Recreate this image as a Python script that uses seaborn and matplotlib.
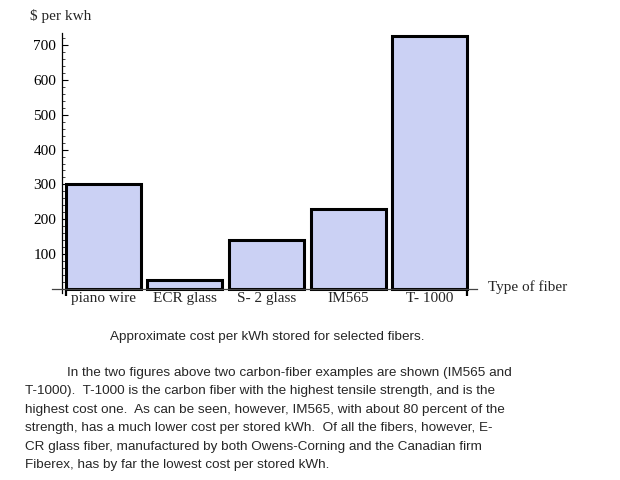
import matplotlib
matplotlib.use("Agg")
import matplotlib.pyplot as plt
from matplotlib.ticker import MultipleLocator, FixedLocator, NullFormatter
import seaborn as sns

# values ($ per kWh stored)
fibers = ["piano wire", "ECR glass", "S- 2 glass", "IM565", "T- 1000"]
cost_per_kwh = [302, 26, 141, 230, 725]
ytick_values = [100, 200, 300, 400, 500, 600, 700]

caption = "Approximate cost per kWh stored for selected fibers."
paragraph = [
    "In the two figures above two carbon-fiber examples are shown (IM565 and",
    "T-1000).  T-1000 is the carbon fiber with the highest tensile strength, and is the",
    "highest cost one.  As can be seen, however, IM565, with about 80 percent of the",
    "strength, has a much lower cost per stored kWh.  Of all the fibers, however, E-",
    "CR glass fiber, manufactured by both Owens-Corning and the Canadian firm",
    "Fiberex, has by far the lowest cost per stored kWh.",
]

sns.set_style("ticks")
plt.rcParams["font.family"] = ["Liberation Serif", "DejaVu Serif"]

W, H = 620, 480
fig = plt.figure(figsize=(6.2, 4.8), dpi=100)
ax = fig.add_axes([52 / W, 187 / H, (477 - 52) / W, (447 - 187) / H])

bar_color = "#CBD1F4"
sns.barplot(x=fibers, y=cost_per_kwh, color=bar_color, saturation=1,
            edgecolor="black", linewidth=2.2, width=0.92, ax=ax)

ax.set_xlim(-0.63, 4.58)
ax.set_ylim(-12, 735)

# Mathematica style crossing axes
for s in ["top", "right"]:
    ax.spines[s].set_visible(False)
ax.spines["left"].set_position(("data", -0.51))
ax.spines["bottom"].set_position(("data", 0))
ax.spines["left"].set_linewidth(0.9)
ax.spines["left"].set_color("black")
ax.spines["bottom"].set_linewidth(0.9)
ax.spines["bottom"].set_color("#444444")

ax.yaxis.set_major_locator(FixedLocator(ytick_values))
ax.yaxis.set_minor_locator(MultipleLocator(20))
ax.tick_params(axis="y", which="major", direction="in", length=4, width=0.8,
               labelsize=11, pad=4, colors="black")
ax.tick_params(axis="y", which="minor", direction="in", length=2, width=0.6)

ax.xaxis.set_minor_locator(FixedLocator([-0.46, 4.46]))
ax.xaxis.set_minor_formatter(NullFormatter())
ax.tick_params(axis="x", which="major", length=0, labelsize=11, pad=2)
ax.tick_params(axis="x", which="minor", direction="out", length=5, width=1.6,
               color="black")
ax.set_xlabel("")
ax.set_ylabel("")

fig.text(30 / W, 1 - 16 / H, "$ per kwh", fontsize=11, ha="left", va="center")
fig.text(488 / W, 1 - 287 / H, "Type of fiber", fontsize=11, ha="left", va="center")

sans = ["Liberation Sans", "DejaVu Sans"]
fig.text(267 / W, 1 - 337 / H, caption, family=sans, fontsize=9.7,
         ha="center", va="center")
for i, line in enumerate(paragraph):
    x0 = 67 if i == 0 else 25
    fig.text(x0 / W, 1 - (373 + i * 18.4) / H, line, family=sans, fontsize=9.7,
             ha="left", va="center")

fig.savefig("out.png", dpi=100)
